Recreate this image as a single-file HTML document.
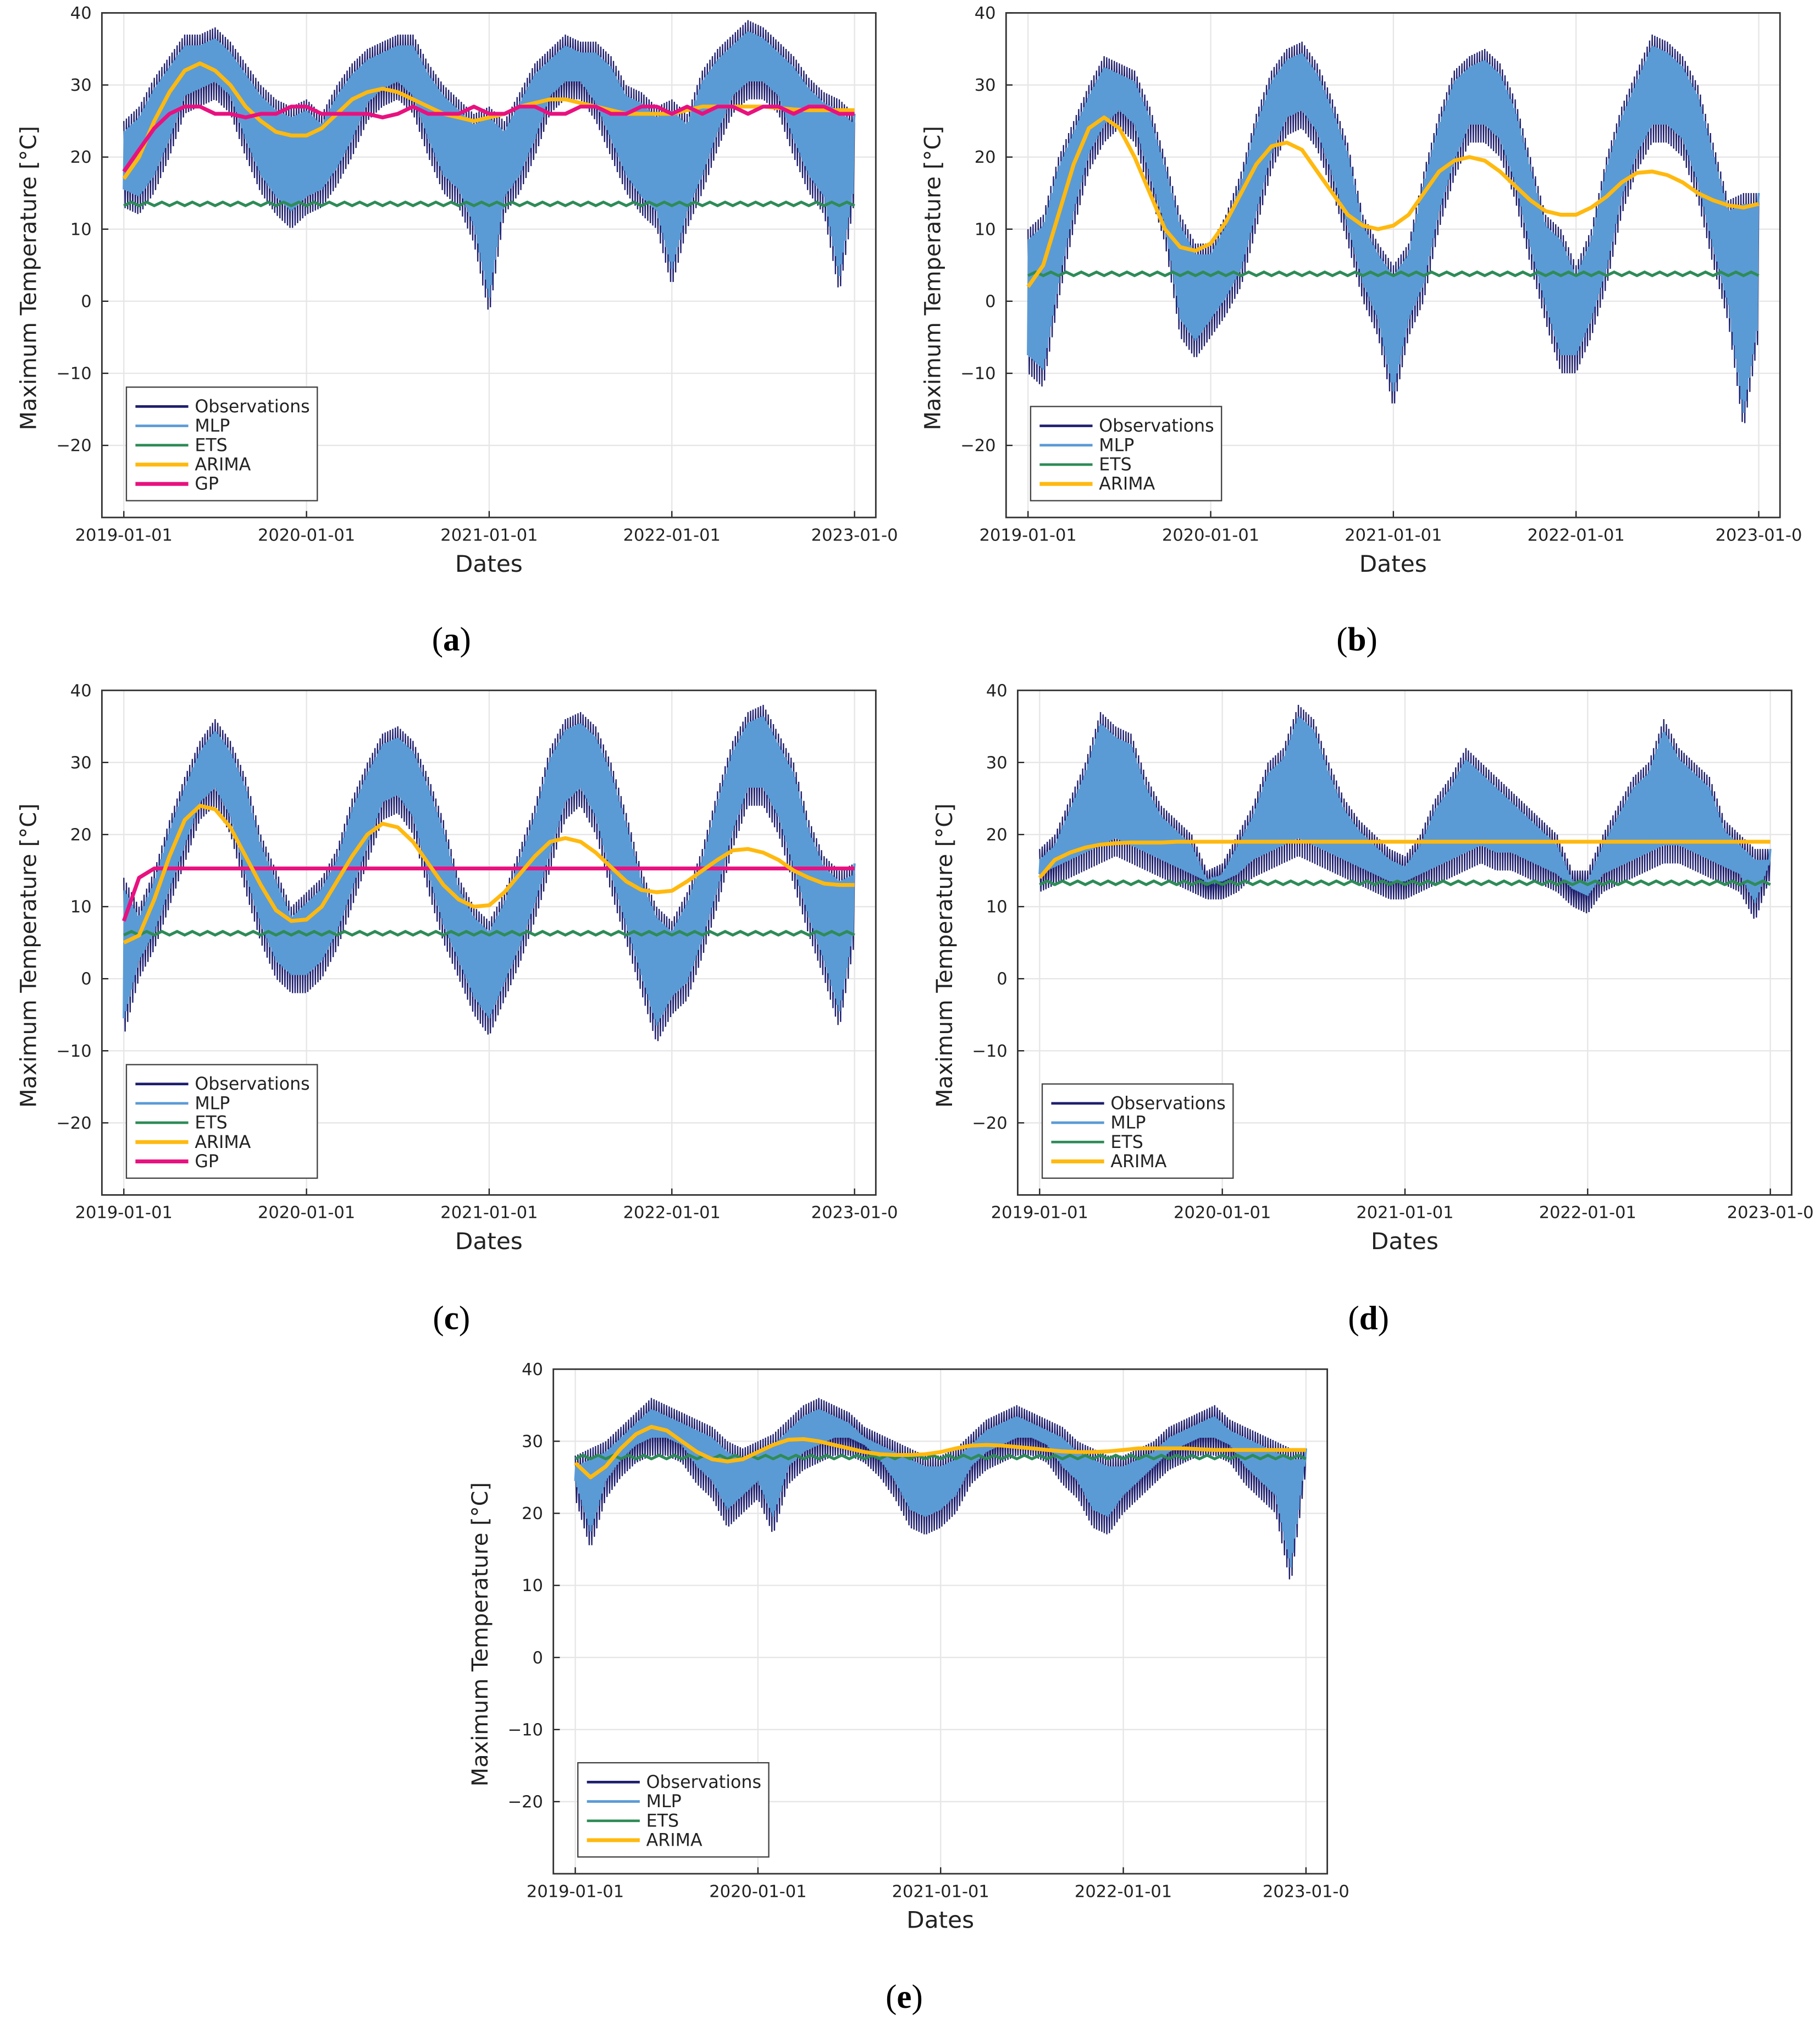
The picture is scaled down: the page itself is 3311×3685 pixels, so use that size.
<!DOCTYPE html>
<html><head><meta charset="utf-8"><style>
html,body{margin:0;padding:0;background:#fff;}
svg{display:block;}
text{font-family:"DejaVu Sans","Liberation Sans",sans-serif;fill:#222;}
.cap{font-family:"Liberation Serif",serif;font-size:26px;fill:#000;}
</style></head><body>
<svg id="fig" width="3311" height="3685" viewBox="0 0 1411 1570" preserveAspectRatio="none" xmlns="http://www.w3.org/2000/svg"></svg>
<script>
// ---- Panel (a) data (monthly, Jan 2019 .. Jan 2023) ----
const aObsHi=[25,27,31,34,37,37,38,36,33,30,28,27,28,26,30,33,35,36,37,37,33,30,28,26,27,25,29,33,35,37,36,36,34,30,29,27,28,26,32,35,37,39,38,36,34,31,29,28,26];
const aObsLo=[13,12,15,20,26,27,28,26,20,15,12,10,12,13,16,20,25,27,28,26,20,15,13,8,-2,12,15,20,26,28,28,25,20,15,12,10,2,10,15,21,26,28,28,26,20,15,12,1,14];
const aArima=[17,20,25,29,32,33,32,30,27,25,23.5,23,23,24,26,28,29,29.5,29,28,27,26,25.5,25,25.5,26,27,27.5,28,28,27.5,27,26.5,26,26,26,26,26.5,27,27,27,27,27,26.8,26.6,26.5,26.5,26.5,26.5];
const aGp=[18,21,24,26,27,27,26,26,25.5,26,26,27,27,26,26,26,26,25.5,26,27,26,26,26,27,26,26,27,27,26,26,27,27,26,26,27,27,26,27,26,27,27,26,27,27,26,27,27,26,26];
const aEts=13.5;
// ---- Panel (b) ----
const bObsHi=[10,12,20,25,30,34,33,32,27,20,12,8,8,12,18,26,32,35,36,33,28,22,12,8,5,8,18,26,32,34,35,33,28,20,12,10,5,10,20,27,32,37,36,34,30,22,14,15,15];
const bObsLo=[-10,-12,0,10,18,22,24,22,15,8,-5,-8,-5,-2,2,10,18,23,24,21,15,8,0,-5,-15,-5,0,10,17,22,22,20,14,5,-3,-10,-10,-5,2,12,18,22,22,20,14,5,-3,-18,-5];
const bArima=[2,5,12,19,24,25.5,24,20,15,10,7.5,7,8,11,15,19,21.5,22,21,18,15,12,10.5,10,10.5,12,15,18,19.5,20,19.5,18,16,14,12.5,12,12,13,14.5,16.5,17.8,18,17.5,16.5,15,14,13.3,13,13.5];
const bEts=3.8;
// ---- Panel (c) ----
const cObsHi=[14,10,15,22,28,33,36,33,28,20,15,10,12,14,18,25,30,34,35,33,28,22,14,10,8,12,18,24,32,36,37,35,30,23,15,10,8,12,18,26,33,37,38,34,30,22,17,15,16];
const cObsLo=[-8,0,4,10,16,22,24,20,12,5,0,-2,-2,0,4,10,16,22,23,20,12,5,0,-5,-8,-3,2,8,15,22,24,20,12,5,-2,-9,-5,-3,3,10,18,24,24,20,13,6,0,-7,5];
const cArima=[5,6,11,17,22,24,23.5,21,17,13,9.5,8,8.2,10,13.5,17,20,21.5,21,19,16,13,11,10,10.2,12,14.5,17,19,19.5,19,17.5,15.5,13.5,12.3,12,12.2,13.5,15,16.5,17.8,18,17.5,16.5,15,14,13.2,13,13];
const cGp=[8,14,15.3,15.3,15.3,15.3,15.3,15.3,15.3,15.3,15.3,15.3,15.3,15.3,15.3,15.3,15.3,15.3,15.3,15.3,15.3,15.3,15.3,15.3,15.3,15.3,15.3,15.3,15.3,15.3,15.3,15.3,15.3,15.3,15.3,15.3,15.3,15.3,15.3,15.3,15.3,15.3,15.3,15.3,15.3,15.3,15.3,15.3,15.3];
const cEts=6.3;
// ---- Panel (d) ----
const dObsHi=[18,20,25,30,37,35,34,28,24,22,20,15,16,20,24,30,32,38,36,30,25,22,20,18,17,20,25,28,32,30,28,26,24,22,20,15,15,20,24,28,30,36,32,30,28,22,20,18,18];
const dObsLo=[12,13,14,15,16,17,16,15,14,13,12,11,11,12,14,15,16,17,16,15,14,13,12,11,11,12,13,14,15,16,15,15,14,13,12,10,9,12,13,14,15,16,16,15,14,13,12,8,14];
const dArima=[14,16.5,17.5,18.2,18.6,18.8,18.9,18.9,18.9,19,19,19,19,19,19,19,19,19,19,19,19,19,19,19,19,19,19,19,19,19,19,19,19,19,19,19,19,19,19,19,19,19,19,19,19,19,19,19,19];
const dEts=13.3;
// ---- Panel (e) ----
const eObsHi=[28,29,30,32,34,36,35,34,33,32,30,29,30,31,33,35,36,35,34,32,31,30,29,28,28,29,31,33,34,35,34,33,32,30,29,28,28,29,30,32,33,34,35,33,32,31,30,29,29];
const eObsLo=[22,15,22,25,27,28,28,27,24,22,18,20,22,17,24,26,27,28,28,27,25,22,18,17,18,20,24,26,27,28,28,27,24,22,18,17,20,22,24,26,27,28,28,27,24,22,20,10,26];
const eArima=[27,25,26.5,29,31,32,31.5,30,28.5,27.5,27.2,27.5,28.5,29.5,30.2,30.3,30,29.5,29,28.5,28.2,28.1,28.1,28.2,28.5,29,29.4,29.5,29.4,29.2,29,28.8,28.6,28.5,28.5,28.6,28.8,29,29,29,29,28.9,28.8,28.8,28.8,28.8,28.8,28.8,28.8];
const eEts=27.8;
// ---- axis ticks ----
const yTicks=[40,30,20,10,0,-10,-20];
const xTickLabels=["2019-01-01","2020-01-01","2021-01-01","2022-01-01","2023-01-0"];

const NS="http://www.w3.org/2000/svg";
const svg=document.getElementById('fig');
function mk(tag,attrs,parent){const e=document.createElementNS(NS,tag);for(const k in attrs)e.setAttribute(k,attrs[k]);(parent||svg).appendChild(e);return e;}
const C={obs:'#1f1f6e',mlp:'#5b9bd5',ets:'#2e8b57',arima:'#ffb90f',gp:'#e8117f'};

function panel(p){
  const g=mk('g',{});
  
  
  const L=p.L,T=p.T,W=600,H=391,R=L+W,B=T+H;
  const xs=m=>p.x0+m/48*566.5;
  const ys=v=>B-(v+30)/70*H;
  const bg=mk('rect',{x:L,y:T,width:W,height:H,fill:'#fff'},g);
  
  
  yTicks.forEach(v=>{
    mk('line',{x1:L,x2:R,y1:ys(v),y2:ys(v),stroke:'#e6e6e6','stroke-width':1},g);
    mk('line',{x1:L,x2:L+5,y1:ys(v),y2:ys(v),stroke:'#222','stroke-width':1},g);
    const t=mk('text',{x:L-8,y:ys(v)+4.5,'text-anchor':'end','font-size':13},g);t.textContent=(v<0?'\u2212'+(-v):v);
    
    
  });
  xTickLabels.forEach((s,i)=>{
    const x=xs(i*12);
    mk('line',{x1:x,x2:x,y1:T,y2:B,stroke:'#e6e6e6','stroke-width':1},g);
    mk('line',{x1:x,x2:x,y1:B,y2:B-5,stroke:'#222','stroke-width':1},g);
    const t=mk('text',{x:x,y:B+18,'text-anchor':'middle','font-size':13},g);t.textContent=s;
    
    
  });
  const clip='clip'+p.id;
  const cp=mk('clipPath',{id:clip},g);mk('rect',{x:L,y:T,width:W,height:H},cp);
  const dg=mk('g',{'clip-path':'url(#'+clip+')'},g);
  function zig(hi,lo,insHi,insLo,steps,phase){
    let pts=[];
    for(let i=0;i<48;i++){
      for(let k=0;k<steps;k++){
        const f=k/steps, m=i+f;
        const h=hi[i]+(hi[i+1]-hi[i])*f-insHi, l=lo[i]+(lo[i+1]-lo[i])*f+insLo;
        const v=((k+phase)%2===0)?h:l;
        pts.push(xs(m).toFixed(1)+','+ys(v).toFixed(1));
      }
    }
    pts.push(xs(48).toFixed(1)+','+ys(hi[48]).toFixed(1));
    return pts.join(' ');
  }
  const ob=mk('polyline',{points:zig(p.hi,p.lo,0,0,12,0),fill:'none',stroke:C.obs,'stroke-width':1},dg);
  
  
  const ml=mk('polyline',{points:zig(p.hi,p.lo,1.5,2.5,16,1),fill:'none',stroke:C.mlp,'stroke-width':1.8},dg);
  
  
  let ep=[];for(let m=0;m<=48;m+=0.5){ep.push(xs(m).toFixed(1)+','+ys(p.ets+((m*2)%2?0.25:-0.25)).toFixed(1));}
  const et=mk('polyline',{points:ep.join(' '),fill:'none',stroke:C.ets,'stroke-width':2.2},dg);
  
  
  function curve(arr,col,name){
    const pts=arr.map((v,i)=>xs(i).toFixed(1)+','+ys(v).toFixed(1)).join(' ');
    const l=mk('polyline',{points:pts,fill:'none',stroke:col,'stroke-width':3,'stroke-linejoin':'round'},dg);
    
    
  }
  if(p.gp && p.id==='c') curve(p.gp,C.gp,'gp-line');
  curve(p.arima,C.arima,'arima-line');
  if(p.gp && p.id==='a') curve(p.gp,C.gp,'gp-line');
  const fr=mk('rect',{x:L,y:T,width:W,height:H,fill:'none',stroke:'#333','stroke-width':1.2},g);
  
  
  const xl=mk('text',{x:L+W/2,y:B+42,'text-anchor':'middle','font-size':18},g);xl.textContent='Dates';
  
  
  const yl=mk('text',{x:0,y:0,'text-anchor':'middle','font-size':17,transform:`translate(${L-51},${T+H/2+10}) rotate(-90)`},g);yl.textContent='Maximum Temperature [°C]';
  
  
  const ents=[['Observations',C.obs,2],['MLP',C.mlp,2],['ETS',C.ets,2],['ARIMA',C.arima,3],['GP',C.gp,3]].slice(0,p.gp?5:4);
  const lx=L+19, lh=ents.length*15+13, ly=p.legBottom-lh;
  const lg=mk('g',{},g);
  
  
  mk('rect',{x:lx,y:ly,width:148,height:lh,fill:'#fff',stroke:'#444','stroke-width':1},lg);
  ents.forEach((e,i)=>{
    const yy=ly+15+i*15;
    mk('line',{x1:lx+7,x2:lx+48,y1:yy,y2:yy,stroke:e[1],'stroke-width':e[2]},lg);
    const t=mk('text',{x:lx+53,y:yy+4.5,'font-size':13.5},lg);t.textContent=e[0];
    
    
  });
  const cap=mk('text',{x:p.capX,y:p.capY,'text-anchor':'middle',class:'cap'},g);
  cap.innerHTML='(<tspan font-weight="bold">'+p.id+'</tspan>)';
  
  
}
panel({id:'a',L:79,T:10,x0:96,hi:aObsHi,lo:aObsLo,arima:aArima,gp:aGp,ets:aEts,legBottom:388,capX:350,capY:504});
panel({id:'b',L:780,T:10,x0:797,hi:bObsHi,lo:bObsLo,arima:bArima,ets:bEts,legBottom:388,capX:1052,capY:504});
panel({id:'c',L:79,T:535,x0:96,hi:cObsHi,lo:cObsLo,arima:cArima,gp:cGp,ets:cEts,legBottom:913,capX:350,capY:1030});
panel({id:'d',L:789,T:535,x0:806,hi:dObsHi,lo:dObsLo,arima:dArima,ets:dEts,legBottom:913,capX:1061,capY:1030});
panel({id:'e',L:429,T:1061,x0:446,hi:eObsHi,lo:eObsLo,arima:eArima,ets:eEts,legBottom:1439,capX:701,capY:1556});
</script>
</body></html>
